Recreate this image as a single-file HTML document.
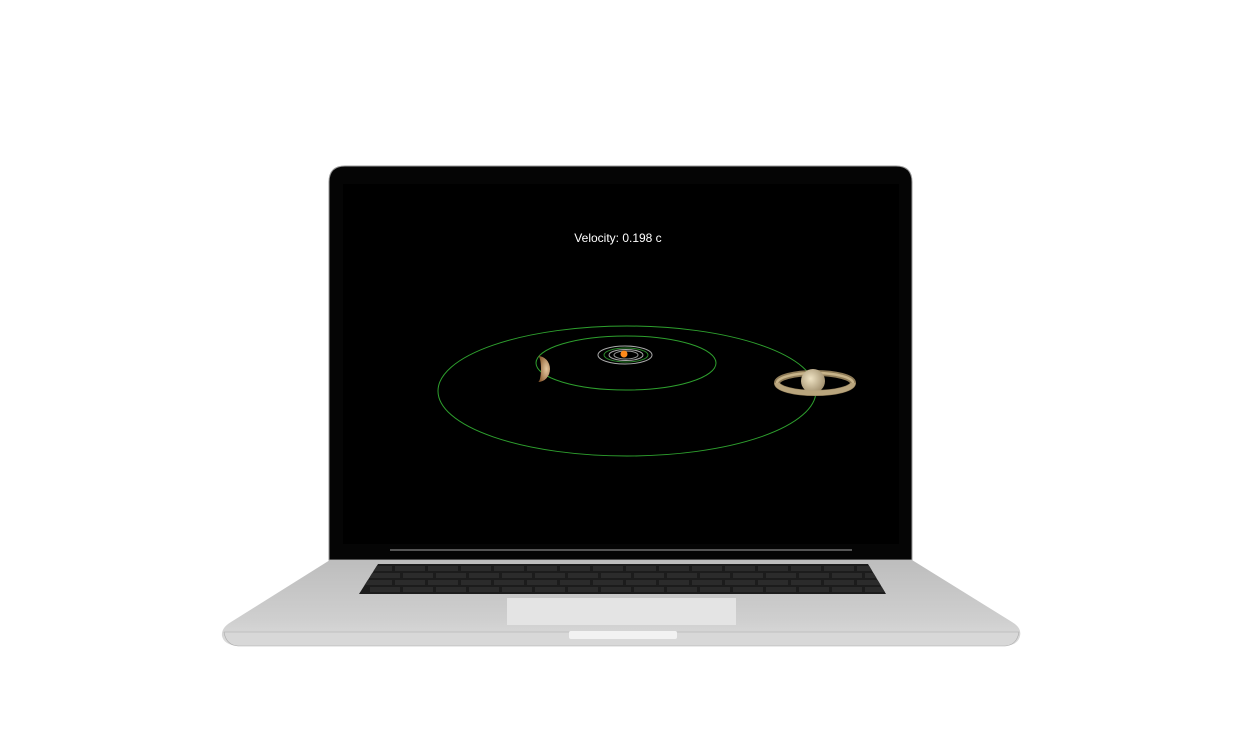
<!DOCTYPE html>
<html><head><meta charset="utf-8"><style>
html,body{margin:0;padding:0;background:#fff;width:1241px;height:745px;overflow:hidden}
svg{display:block}
</style></head><body>
<svg width="1241" height="745" viewBox="0 0 1241 745">
<defs>
<linearGradient id="base" x1="0" y1="0" x2="0" y2="1"><stop offset="0" stop-color="#bdbdbd"/><stop offset="0.7" stop-color="#cfcfcf"/><stop offset="1" stop-color="#dcdcdc"/></linearGradient>
<radialGradient id="jup" cx="0.7" cy="0.5" r="0.7"><stop offset="0" stop-color="#e6c8a0"/><stop offset="1" stop-color="#8a5a30"/></radialGradient>
<radialGradient id="sat" cx="0.4" cy="0.4" r="0.7"><stop offset="0" stop-color="#efe3c4"/><stop offset="1" stop-color="#9a8866"/></radialGradient>
<clipPath id="kbclip"><path d="M378,564 L868,564 L886,594 L359,594 Z"/></clipPath>
</defs>
<path d="M329,560 L329,182 Q329,166 345,166 L896,166 Q912,166 912,182 L912,560 Z" fill="#050505" stroke="#9a9a9a" stroke-width="1"/>
<rect x="343" y="184" width="556" height="360" fill="#000"/>
<line x1="390" y1="550" x2="852" y2="550" stroke="#555" stroke-width="2"/>
<path d="M330,560 L912,560 L1012,622 Q1022,628 1020,636 Q1018,645 1005,646 L238,646 Q224,645 222,636 Q221,628 231,622 Z" fill="url(#base)"/>
<path d="M224,632 L1019,632 Q1017,645 1005,646 L238,646 Q226,645 224,632 Z" fill="#d8d8d8" stroke="#aaa" stroke-width="0.6"/>
<path d="M378,564 L868,564 L886,594 L359,594 Z" fill="#1c1c1c"/>
<g id="keys" clip-path="url(#kbclip)"></g>
<rect x="507" y="598" width="229" height="27" fill="#e4e4e4"/>
<rect x="569" y="631" width="108" height="8" rx="2" fill="#f2f2f2"/>
<text x="618" y="242" fill="#fff" font-family="Liberation Sans, sans-serif" font-size="12" text-anchor="middle">Velocity: 0.198 c</text>
<g id="orbits"></g>
<circle cx="624" cy="354" r="3.5" fill="#ff8a1a"/>
<path d="M538,356 A12,13 0 0 1 538,382 A3,13 0 0 0 538,356 Z" fill="url(#jup)"/>
<g>
<ellipse cx="815" cy="383" rx="38" ry="10" fill="none" stroke="#8f7c58" stroke-width="6"/>
<ellipse cx="815" cy="383" rx="38" ry="10" fill="none" stroke="#c8b48a" stroke-width="2.5"/>
<circle cx="813" cy="381" r="12" fill="url(#sat)"/>
<path d="M777,383 A38,10 0 0 0 853,383" fill="none" stroke="#b9a57d" stroke-width="5"/>
</g>
</svg>
<script>
const orbitNames=['mercury','venus','earth','mars','jupiter','saturn'];
const orbitRx=[12,17,22,27,90,189];
const orbitRy=[4,5.5,7,9,27,65];
const orbitCx=[626,626,626,625,626,627];
const orbitCy=[355,355,355,355,363,391];
const orbitColor=['#9a9a9a','#aaa','#2a8a2a','#aaa','#2ea02e','#2ea02e'];
const NS='http://www.w3.org/2000/svg';
const g=document.getElementById('orbits');
for(let i=0;i<orbitNames.length;i++){
  const e=document.createElementNS(NS,'ellipse');
  e.setAttribute('cx',orbitCx[i]);e.setAttribute('cy',orbitCy[i]);
  e.setAttribute('rx',orbitRx[i]);e.setAttribute('ry',orbitRy[i]);
  e.setAttribute('fill','none');e.setAttribute('stroke',orbitColor[i]);e.setAttribute('stroke-width','1');
  
  
  g.appendChild(e);
}
const kg=document.getElementById('keys');
for(let r=0;r<4;r++){
  const y=566+r*7;
  const x0=362, x1=890;
  for(let x=x0;x<x1;x+=33){
    const k=document.createElementNS(NS,'rect');
    k.setAttribute('x',x+(r%2)*8);k.setAttribute('y',y);k.setAttribute('width',30);k.setAttribute('height',5);
    k.setAttribute('fill','#2b2b2b');
    
    
    kg.appendChild(k);
  }
}
</script>
</body></html>
